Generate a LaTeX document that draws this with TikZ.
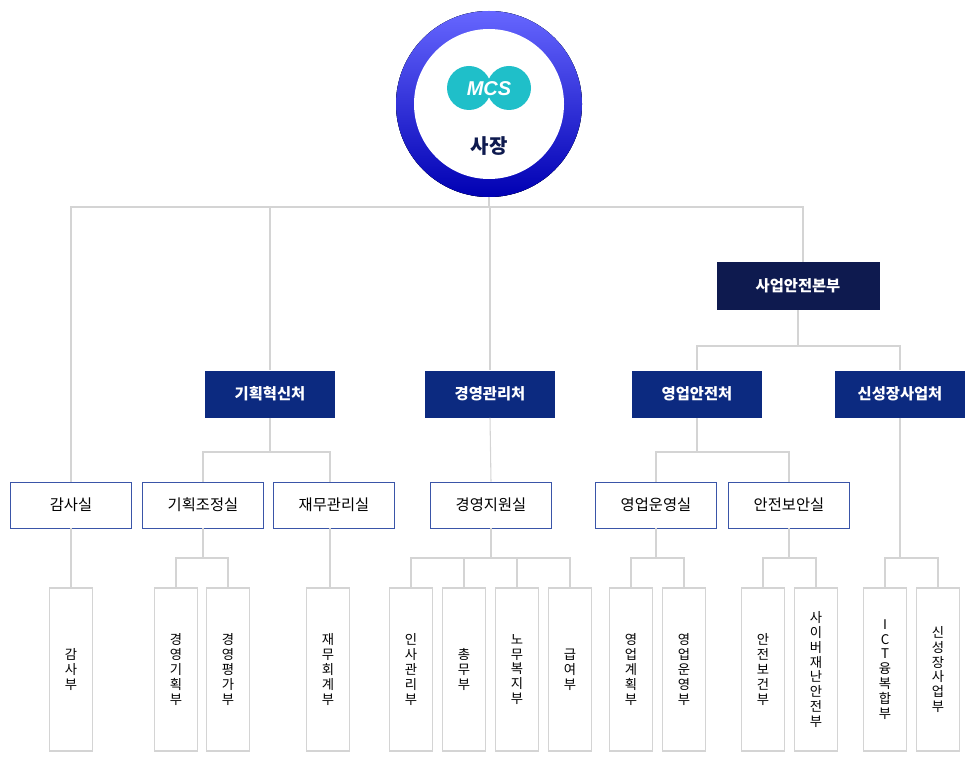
\documentclass[tikz,border=0pt]{standalone}
\usepackage{fontspec}
\setmainfont{Noto Sans CJK KR}
\newfontfamily\logofont{Liberation Sans}
\usetikzlibrary{positioning}
\definecolor{navy}{HTML}{0C2A80}
\definecolor{darknavy}{HTML}{0E1A4F}
\definecolor{boxline}{HTML}{3A55A8}
\definecolor{linegray}{HTML}{D4D4D4}
\definecolor{teal}{HTML}{1FBFC9}
\tikzset{
  office/.style={fill=navy, text=white, minimum width=97.5pt, minimum height=35.25pt, font=\fontsize{11.5}{13}\selectfont\bfseries},
  room/.style={draw=boxline, fill=white, minimum width=90.75pt, minimum height=34.5pt, font=\fontsize{11.5}{13}\selectfont},
  team/.style={draw=linegray, fill=white, line width=0.9pt, minimum width=32.25pt, minimum height=122.25pt, align=center, font=\fontsize{10}{11.2}\selectfont},
  link/.style={draw=linegray, line width=0.8pt}
}
\begin{document}
\begin{tikzpicture}[x=0.75pt, y=-0.75pt]
        \useasboundingbox (0,0) rectangle (980,780);
        % President
        \fill [top color=blue!55!cyan!60!white!80!blue, bottom color=navy!90!blue, shading angle=0]
            (489,104) circle [radius=69.75pt];
        \fill [top color=blue!60!white, bottom color=blue!70!black] (489,104) circle [radius=69.75pt];
        \fill [white] (489,104) circle [radius=56.25pt];
        \coordinate (ceo) at (489,197);
        \fill [teal] (469,88) circle [radius=16.5pt];
        \fill [teal] (509,88) circle [radius=16.5pt];
        \node [text=white, font=\logofont\bfseries\itshape\fontsize{15}{15}\selectfont] (logo) at (489,89) {MCS};
        \node [font=\fontsize{15}{16}\selectfont\bfseries, text=darknavy] (boss) at (489,146) {사장};
        % Headquarters and offices
        \node [office, fill=darknavy, minimum width=122.25pt, minimum height=36pt] (hq) at (798,286) {사업안전본부};
        \node [office] (plan) at (270,394) {기획혁신처};
        \node [office] (mgmt) at (490,394) {경영관리처};
        \node [office] (safe) at (697,394) {영업안전처};
        \node [office] (grow) at (900,394) {신성장사업처};
        % Rooms
        \node [room] (audit) at (71,505) {감사실};
        \node [room] (coord) at (203,505) {기획조정실};
        \node [room] (fin) at (334,505) {재무관리실};
        \node [room] (supp) at (491,505) {경영지원실};
        \node [room] (oper) at (656,505) {영업운영실};
        \node [room] (secu) at (789,505) {안전보안실};
        % Teams
        \foreach \name/\x/\txt in {
            t1/71/감\\사\\부, t2/176/경\\영\\기\\획\\부, t3/228/경\\영\\평\\가\\부,
            t4/328/재\\무\\회\\계\\부, t5/411/인\\사\\관\\리\\부, t6/464/총\\무\\부,
            t7/517/노\\무\\복\\지\\부, t8/570/급\\여\\부, t9/631/영\\업\\계\\획\\부,
            t10/684/영\\업\\운\\영\\부, t11/763/안\\전\\보\\건\\부,
            t12/816/사\\이\\버\\재\\난\\안\\전\\부, t13/885/I\\C\\T\\융\\복\\합\\부,
            t14/938/신\\성\\장\\사\\업\\부}
            \node [team] (\name) at (\x,669.5) {\txt};
        % Connectors
        \coordinate (top) at (489,207);
        \draw [link] (ceo) -- (top);
        \draw [link] (audit.north) |- (top) -| (803,262);
        \draw [link] (plan.north) -- (270,207);
        \draw [link] (mgmt.north) -- (490,207);
        \coordinate (hqj) at (798,346);
        \draw [link] (hq.south) -- (hqj);
        \draw [link] (safe.north) |- (hqj) -| (grow.north);
        \coordinate (planj) at (270,452);
        \draw [link] (plan.south) -- (planj);
        \draw [link] (coord.north) |- (planj) -| (fin.north -| 330,0);
        \draw [link] (mgmt.south) -- (supp.north);
        \coordinate (safej) at (697,452);
        \draw [link] (safe.south) -- (safej);
        \draw [link] (oper.north) |- (safej) -| (secu.north);
        \draw [link] (audit.south) -- (t1.north);
        \draw [link] (t2.north) |- (coord.south |- 0,558) -| (t3.north);
        \draw [link] (coord.south) -- (coord.south |- 0,558);
        \draw [link] (fin.south -| 330,0) -- (t4.north -| 330,0);
        \draw [link] (supp.south) -- (supp.south |- 0,558);
        \draw [link] (t5.north) |- (t8.north |- 0,558) -- (t8.north);
        \draw [link] (t6.north) -- (t6.north |- 0,558);
        \draw [link] (t7.north) -- (t7.north |- 0,558);
        \draw [link] (oper.south) -- (oper.south |- 0,558);
        \draw [link] (t9.north) |- (t10.north |- 0,558) -- (t10.north);
        \draw [link] (secu.south) -- (secu.south |- 0,558);
        \draw [link] (t11.north) |- (t12.north |- 0,558) -- (t12.north);
        \draw [link] (grow.south) -- (grow.south |- 0,558);
        \draw [link] (t13.north) |- (t14.north |- 0,558) -- (t14.north);
\end{tikzpicture}
\end{document}
